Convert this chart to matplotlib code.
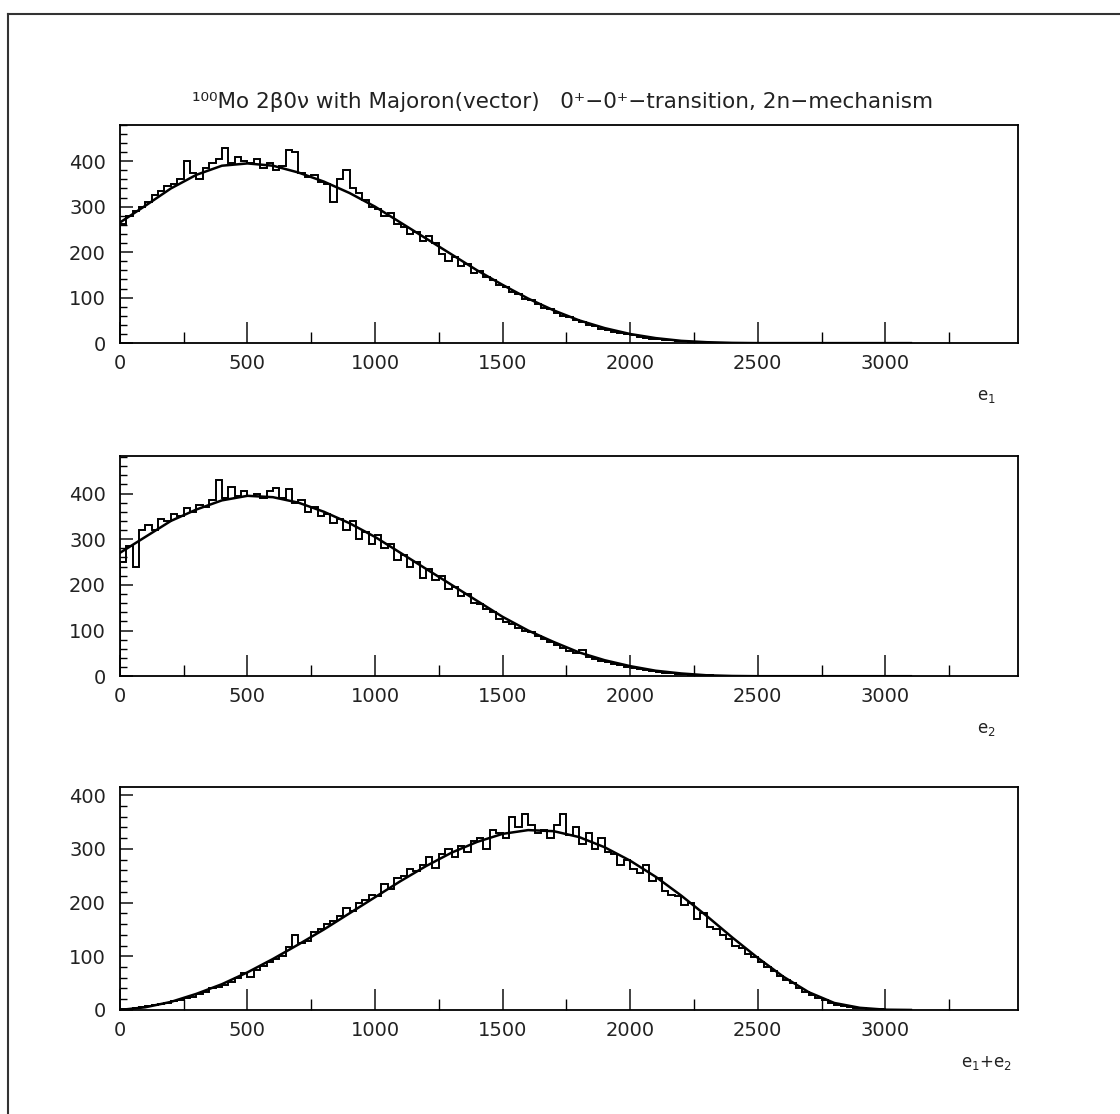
import numpy as np
import matplotlib
matplotlib.use("Agg")
import matplotlib.pyplot as plt
from matplotlib.lines import Line2D
from matplotlib.ticker import MultipleLocator, FixedLocator

plt.rcParams['mathtext.fontset'] = 'dejavusans'

# histogram bins (width 25)
bin_w = 25

e1_counts = [262, 280, 290, 300, 310, 325, 335, 345, 350, 360,
             400, 375, 360, 385, 395, 405, 430, 395, 410, 400,
             395, 405, 385, 395, 380, 390, 425, 420, 375, 365,
             370, 355, 350, 310, 360, 380, 340, 330, 315, 300,
             295, 280, 285, 262, 255, 240, 245, 225, 235, 220,
             195, 180, 190, 170, 175, 155, 158, 145, 138, 128,
             124, 112, 108, 98, 95, 86, 78, 74, 66, 60,
             58, 50, 46, 40, 37, 32, 28, 25, 22, 19,
             17, 14, 12, 10, 9, 7, 6, 5, 4, 3,
             3, 2, 1, 1, 1, 0, 0, 0, 0, 0]

e2_counts = [250, 285, 240, 320, 330, 320, 345, 340, 355, 350,
             368, 360, 375, 370, 385, 430, 390, 415, 395, 405,
             395, 400, 390, 405, 412, 390, 410, 380, 385, 360,
             370, 350, 355, 335, 345, 320, 340, 300, 315, 290,
             310, 280, 290, 255, 265, 240, 250, 215, 235, 210,
             220, 190, 195, 175, 180, 160, 158, 148, 140, 125,
             118, 114, 105, 100, 96, 88, 82, 74, 68, 62,
             56, 50, 58, 42, 38, 34, 30, 27, 24, 20,
             18, 16, 13, 11, 10, 8, 7, 5, 4, 3,
             3, 2, 2, 1, 1, 1, 0, 0, 0, 0]

sum_counts = [1, 2, 3, 5, 7, 9, 11, 13, 16, 18,
              22, 25, 29, 33, 40, 42, 47, 52, 60, 68,
              62, 75, 82, 90, 95, 100, 118, 140, 125, 128,
              145, 150, 160, 165, 175, 190, 185, 200, 205, 215,
              212, 235, 225, 245, 250, 262, 258, 270, 285, 265,
              290, 300, 285, 305, 295, 315, 320, 300, 335, 330,
              320, 360, 340, 365, 345, 330, 335, 320, 345, 365,
              325, 340, 310, 330, 300, 320, 295, 290, 270, 280,
              262, 255, 270, 240, 245, 222, 215, 212, 195, 200,
              170, 180, 155, 150, 140, 132, 120, 115, 105, 98,
              90, 80, 72, 64, 55, 50, 40, 34, 28, 22,
              18, 13, 10, 7, 5, 4, 3, 2, 1, 1]

# smooth theoretical curves, sampled every 100
curve_x = [0, 100, 200, 300, 400, 500, 600, 700, 800, 900,
           1000, 1100, 1200, 1300, 1400, 1500, 1600, 1700, 1800, 1900,
           2000, 2100, 2200, 2300, 2400, 2500, 2600, 2700, 2800, 2900,
           3000, 3100]
e1_curve = [265, 302, 340, 370, 390, 395, 390, 375, 355, 330,
            300, 265, 230, 195, 160, 128, 98, 72, 50, 33,
            20, 11, 5, 2, 0.5, 0, 0, 0, 0, 0, 0, 0]
e2_curve = [270, 305, 340, 365, 385, 395, 392, 380, 360, 335,
            305, 270, 235, 200, 165, 130, 100, 75, 52, 35,
            22, 12, 6, 2, 0.5, 0, 0, 0, 0, 0, 0, 0]
sum_curve = [0, 5, 15, 30, 48, 70, 95, 122, 150, 180,
             210, 240, 268, 293, 313, 328, 335, 333, 322, 303,
             278, 248, 213, 175, 135, 97, 62, 33, 13, 4,
             0.5, 0]

x_major = [0, 500, 1000, 1500, 2000, 2500, 3000]
x_minor = [250, 750, 1250, 1750, 2250, 2750, 3250]

panels = [
    (e1_counts, e1_curve, "e$_1$", 480, [0.107, 0.692, 0.802, 0.196]),
    (e2_counts, e2_curve, "e$_2$", 483, [0.107, 0.393, 0.802, 0.198]),
    (sum_counts, sum_curve, "e$_1$+e$_2$", 415, [0.107, 0.0934, 0.802, 0.200]),
]

fig = plt.figure(figsize=(11.2, 11.14), dpi=100)

for counts, curve, xlab, ytop, pos in panels:
    ax = fig.add_axes(pos)
    edges = np.arange(len(counts) + 1) * bin_w
    ax.stairs(counts, edges, color="black", lw=1.4)
    ax.plot(curve_x, curve, color="black", lw=1.8)
    ax.set_xlim(0, 3520)
    ax.set_ylim(0, ytop)
    ax.xaxis.set_major_locator(FixedLocator(x_major))
    ax.xaxis.set_minor_locator(FixedLocator(x_minor))
    ax.yaxis.set_major_locator(MultipleLocator(100))
    ax.yaxis.set_minor_locator(MultipleLocator(20))
    ax.tick_params(which="major", axis="x", direction="in", length=15, width=1.2,
                   labelsize=14, pad=8, colors="#222222")
    ax.tick_params(which="minor", axis="x", direction="in", length=8, width=1.0)
    ax.tick_params(which="major", axis="y", direction="in", length=9, width=1.2,
                   labelsize=14, pad=10, colors="#222222")
    ax.tick_params(which="minor", axis="y", direction="in", length=5, width=1.0)
    for sp in ax.spines.values():
        sp.set_linewidth(1.3)
    ax.text(0.965, -0.24, xlab, transform=ax.transAxes, fontsize=12,
            ha="center", va="center", color="#222222")

fig.text(0.502, 0.908,
         "¹⁰⁰Mo 2β0ν with Majoron(vector)   0⁺−0⁺−transition, 2n−mechanism",
         ha="center", va="center", fontsize=15.5, color="#222222")

# outer frame of the scanned page
fig.add_artist(Line2D([0.007, 1.0], [0.987, 0.987], transform=fig.transFigure,
                      color="#333333", lw=1.5))
fig.add_artist(Line2D([0.007, 0.007], [0.0, 0.987], transform=fig.transFigure,
                      color="#333333", lw=1.5))

fig.savefig("out.png", dpi=100, facecolor="white")
